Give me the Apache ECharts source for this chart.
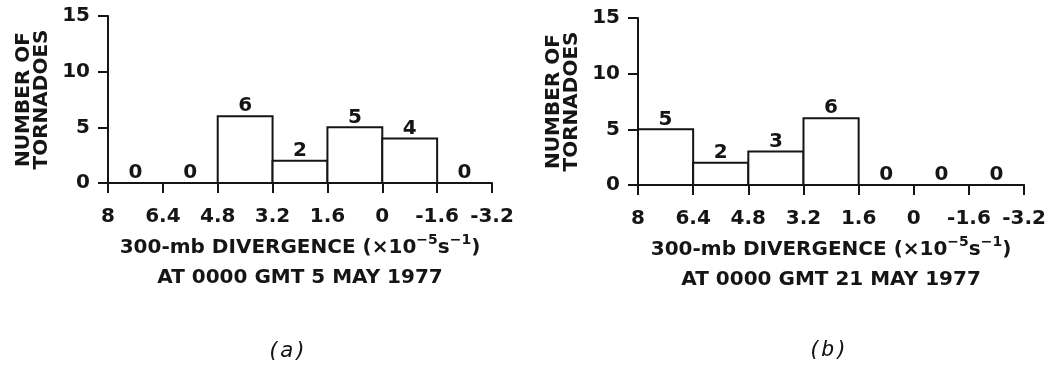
<!DOCTYPE html>
<html><head><meta charset="utf-8">
<script src="https://cdn.jsdelivr.net/npm/echarts@6/dist/echarts.min.js"></script>
<style>html,body{margin:0;padding:0;background:#fff}#c{width:1049px;height:370px}</style>
</head><body><div id="c"></div>
<script>
// Bin edges (x10^-5 s^-1), left to right as drawn
const binEdges = [8, 6.4, 4.8, 3.2, 1.6, 0, -1.6, -3.2];
// Number of tornadoes per bin
const countsA = [0, 0, 6, 2, 5, 4, 0];   // 5 May 1977
const countsB = [5, 2, 3, 6, 0, 0, 0];   // 21 May 1977
const yTickLabels = ['0', '5', '10', '15'];
const xNameLine1 = '300-mb DIVERGENCE (×10';
const dateA = 'AT 0000 GMT 5 MAY 1977';
const dateB = 'AT 0000 GMT 21 MAY 1977';
const yName = 'NUMBER OF\nTORNADOES';
const panelLabels = ['(a)', '(b)'];

const FONT = 'DejaVu Sans';
const W = 'bold';
const INK = '#151515';

function binData(counts) {
  return counts.map((c, i) => [binEdges[i], binEdges[i + 1], c]);
}
function fmtX(v) {
  let best = binEdges[0];
  binEdges.forEach(e => { if (Math.abs(e - v) < Math.abs(best - v)) best = e; });
  return String(best);
}
function xName(date) {
  return '{m|' + xNameLine1 + '}{sup|−5}{m|s}{sup|−1}{m|)}\n{m|' + date + '}';
}
function xAxisCfg(idx, date) {
  return {
    type: 'value', gridIndex: idx, inverse: true,
    min: -3.2, max: 8, interval: 1.6,
    splitLine: { show: false },
    axisLine: { show: true, onZero: false, lineStyle: { color: INK, width: 2 } },
    axisTick: { show: true, length: 10, lineStyle: { color: INK, width: 2 } },
    axisLabel: { margin: 24, fontFamily: FONT, fontWeight: W, fontSize: 20, color: INK, formatter: fmtX, showMinLabel: true, showMaxLabel: true },
    name: xName(date), nameLocation: 'middle', nameGap: 50,
    nameTextStyle: {
      color: INK, fontFamily: FONT, fontWeight: W, fontSize: 20, lineHeight: 30,
      rich: {
        m: { fontFamily: FONT, fontWeight: W, fontSize: 20, color: INK, lineHeight: 30 },
        sup: { fontFamily: FONT, fontWeight: W, fontSize: 14, color: INK, verticalAlign: 'top', lineHeight: 30 }
      }
    }
  };
}
function yAxisCfg(idx) {
  return {
    type: 'value', gridIndex: idx, min: 0, max: 15, interval: 5,
    splitLine: { show: false },
    axisLine: { show: true, onZero: false, lineStyle: { color: INK, width: 2 } },
    axisTick: { show: true, length: 10, lineStyle: { color: INK, width: 2 } },
    axisLabel: { margin: 18, fontFamily: FONT, fontWeight: W, fontSize: 20, color: INK,
      formatter: v => yTickLabels[Math.round(v / 5)] },
    name: yName, nameLocation: 'middle', nameRotate: 90, nameGap: 57,
    nameTextStyle: { color: INK, fontFamily: FONT, fontWeight: W, fontSize: 20, lineHeight: 18 }
  };
}
function renderBin(params, api) {
  const x0 = api.value(0), x1 = api.value(1), v = api.value(2);
  const a = api.coord([x0, v]);
  const b = api.coord([x1, 0]);
  const left = Math.min(a[0], b[0]);
  const w = Math.abs(b[0] - a[0]);
  const top = a[1];
  const h = b[1] - a[1];
  const children = [];
  if (v > 0) {
    children.push({ type: 'rect', shape: { x: left, y: top, width: w, height: h },
      style: { fill: '#fff', stroke: INK, lineWidth: 2 } });
  }
  children.push({ type: 'text', style: { text: String(v), x: left + w / 2, y: top,
    align: 'center', verticalAlign: 'bottom', fontSize: 20, fontWeight: W, fontFamily: FONT, fill: INK } });
  return { type: 'group', children };
}
function series(idx, counts) {
  return { type: 'custom', xAxisIndex: idx, yAxisIndex: idx, renderItem: renderBin,
    encode: { x: [0, 1], y: 2 }, data: binData(counts), silent: true, clip: false };
}

const chart = echarts.init(document.getElementById('c'), null, { renderer: 'canvas' });
chart.setOption({
  backgroundColor: '#fff',
  animation: false,
  grid: [
    { left: 108, top: 16, width: 384, height: 167 },
    { left: 638, top: 18, width: 389, height: 167 }
  ],
  xAxis: [xAxisCfg(0, dateA), xAxisCfg(1, dateB)],
  yAxis: [yAxisCfg(0), yAxisCfg(1)],
  series: [series(0, countsA), series(1, countsB)],
  graphic: [
    { type: 'text', left: 287 - 20, top: 340, style: { text: panelLabels[0], fontFamily: 'DejaVu Sans Mono', fontStyle: 'italic', fontSize: 22, fill: INK } },
    { type: 'text', left: 828 - 20, top: 339, style: { text: panelLabels[1], fontFamily: 'DejaVu Sans Mono', fontStyle: 'italic', fontSize: 22, fill: INK } }
  ]
});
</script>
</body></html>
